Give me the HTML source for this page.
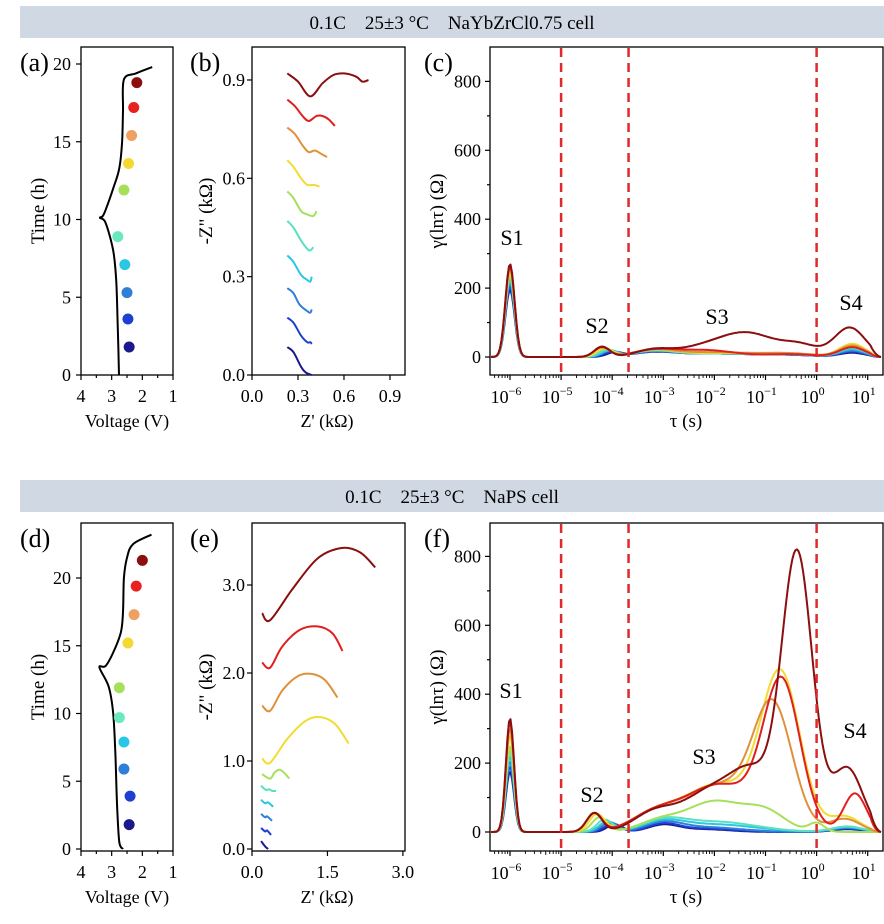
<!DOCTYPE html>
<html><head><meta charset="utf-8"><style>
html,body{margin:0;padding:0;background:#fff;}
svg{display:block;font-family:"Liberation Serif",serif;}
</style></head><body>
<svg id="fig" width="884" height="924" viewBox="0 0 884 924" xmlns="http://www.w3.org/2000/svg">
<rect x="20" y="6" width="864" height="32" fill="#cfd8e3"/>
<text x="452" y="29" font-size="19" text-anchor="middle" xml:space="preserve">0.1C    25±3 °C    NaYbZrCl0.75 cell</text>
<rect x="20" y="480" width="864" height="32" fill="#cfd8e3"/>
<text x="452" y="503" font-size="19" text-anchor="middle" xml:space="preserve">0.1C    25±3 °C    NaPS cell</text>
<g id="g"></g>
</svg>
<script>
const COLORS = ['#1a1a8c','#1f3fd0','#2f7fd8','#29c6e6','#5ae0c0','#a6e05a','#f2dc30','#e0903a','#e02020','#8b0f0f'];
const DOTCOLORS = ['#1a1a8c','#1f3fd0','#2f7fd8','#29c6e6','#6ae8c0','#a6e05a','#f5d830','#f0a060','#e82020','#8b0f0f'];

// (a) voltage-time
const aCurveV = [2.76,2.8,2.85,2.95,3.2,3.38,3.3,3.2,2.95,2.75,2.66,2.63,2.6,2.2,1.68];
const aCurveT = [0,3,6,8,9.8,10.1,10.2,10.6,12,13.3,15,17,19,19.4,19.8];
const aDotV = [2.43,2.47,2.5,2.57,2.8,2.6,2.45,2.35,2.28,2.18];
const aDotT = [1.8,3.6,5.3,7.1,8.9,11.9,13.6,15.4,17.2,18.8];
// (d)
const dCurveV = [2.63,2.75,2.82,2.88,2.95,3.1,3.4,3.2,2.95,2.7,2.63,2.6,2.5,2.3,1.7];
const dCurveT = [0,0.5,3,7,10,12,13.4,13.5,14.5,16,17.5,20,21.5,22.5,23.2];
const dDotV = [2.43,2.4,2.6,2.6,2.75,2.75,2.47,2.27,2.2,2.0];
const dDotT = [1.8,3.9,5.9,7.9,9.7,11.9,15.2,17.3,19.4,21.3];

// (b) Nyquist, [Z', -Z''] kOhm
const bSeries = [
 [[0.23,0.085],[0.27,0.07],[0.32,0.025],[0.35,0.008],[0.39,0.0]],
 [[0.23,0.175],[0.27,0.16],[0.32,0.12],[0.36,0.1],[0.38,0.1],[0.39,0.095]],
 [[0.23,0.265],[0.27,0.25],[0.31,0.215],[0.36,0.195],[0.38,0.19],[0.39,0.2]],
 [[0.23,0.365],[0.27,0.345],[0.32,0.305],[0.36,0.29],[0.38,0.285],[0.39,0.3]],
 [[0.23,0.47],[0.27,0.45],[0.32,0.41],[0.36,0.385],[0.38,0.38],[0.40,0.39]],
 [[0.23,0.56],[0.27,0.54],[0.32,0.5],[0.36,0.49],[0.40,0.485],[0.42,0.5]],
 [[0.23,0.655],[0.27,0.635],[0.32,0.6],[0.36,0.58],[0.40,0.58],[0.44,0.575]],
 [[0.23,0.755],[0.28,0.735],[0.33,0.7],[0.37,0.68],[0.41,0.685],[0.45,0.675],[0.49,0.665]],
 [[0.23,0.84],[0.28,0.82],[0.33,0.79],[0.37,0.775],[0.42,0.79],[0.46,0.79],[0.50,0.78],[0.54,0.76]],
 [[0.23,0.92],[0.30,0.895],[0.38,0.85],[0.46,0.89],[0.53,0.915],[0.6,0.92],[0.68,0.91],[0.72,0.895],[0.76,0.9]]
];
// (e)
const eSeries = [
 [[0.18,0.09],[0.26,0.03],[0.32,0.0]],
 [[0.18,0.24],[0.26,0.2],[0.3,0.21],[0.38,0.16]],
 [[0.18,0.4],[0.26,0.36],[0.3,0.37],[0.4,0.32]],
 [[0.18,0.56],[0.26,0.52],[0.32,0.53],[0.42,0.48]],
 [[0.18,0.72],[0.28,0.67],[0.34,0.68],[0.4,0.66],[0.48,0.66]],
 [[0.2,0.85],[0.36,0.8],[0.45,0.87],[0.55,0.9],[0.65,0.86],[0.74,0.8]],
 [[0.2,1.03],[0.36,0.98],[0.7,1.25],[1.05,1.45],[1.35,1.5],[1.65,1.42],[1.92,1.2]],
 [[0.2,1.63],[0.36,1.57],[0.6,1.8],[0.9,1.96],[1.18,1.99],[1.45,1.92],[1.7,1.72]],
 [[0.2,2.12],[0.36,2.06],[0.6,2.3],[0.95,2.49],[1.3,2.53],[1.6,2.45],[1.8,2.25]],
 [[0.2,2.68],[0.36,2.6],[0.8,2.95],[1.3,3.3],[1.78,3.42],[2.15,3.37],[2.45,3.2]]
];

// DRT peaks per series: [log10 tau center, height (Ohm), width (decades)]
const cPeaks = [
 [[-6,195,0.09],[-3.95,12,0.15],[-3.2,12,0.4],[-2,10,0.8],[-0.5,5,0.5],[0.7,12,0.25]],
 [[-6,205,0.09],[-4.0,14,0.15],[-3.2,13,0.4],[-2,10,0.8],[-0.5,5,0.5],[0.7,15,0.25]],
 [[-6,215,0.09],[-4.05,16,0.15],[-3.2,14,0.4],[-2,10,0.8],[-0.5,6,0.5],[0.7,18,0.25]],
 [[-6,225,0.09],[-4.05,18,0.15],[-3.2,15,0.4],[-2,10,0.8],[-0.5,6,0.5],[0.7,22,0.25]],
 [[-6,232,0.09],[-4.1,20,0.15],[-3.2,16,0.4],[-2,11,0.8],[-0.5,7,0.5],[0.7,26,0.25]],
 [[-6,240,0.09],[-4.15,22,0.15],[-3.2,17,0.4],[-2,11,0.8],[-0.5,7,0.5],[0.7,30,0.25]],
 [[-6,250,0.09],[-4.15,25,0.15],[-3.2,18,0.4],[-2,12,0.8],[-0.5,8,0.5],[0.7,38,0.25]],
 [[-6,258,0.09],[-4.2,27,0.15],[-3.2,18,0.4],[-2,14,0.8],[-0.5,9,0.5],[0.7,33,0.25]],
 [[-6,265,0.09],[-4.2,28,0.15],[-3.2,18,0.4],[-2.2,20,0.6],[-0.5,8,0.5],[0.7,28,0.25]],
 [[-6,270,0.09],[-4.2,30,0.15],[-3.2,20,0.35],[-2.3,22,0.5],[-1.35,68,0.55],[-0.3,30,0.35],[0.65,85,0.3]]
];
const fPeaks = [
 [[-6,175,0.08],[-3.95,22,0.15],[-3.0,20,0.3],[-2.2,8,0.5],[0.6,8,0.3]],
 [[-6,190,0.08],[-4.0,25,0.15],[-3.0,22,0.3],[-2.2,10,0.6],[0.6,10,0.3]],
 [[-6,205,0.08],[-4.05,28,0.15],[-3.0,24,0.35],[-2.2,14,0.7],[0.6,12,0.3]],
 [[-6,220,0.08],[-4.1,30,0.15],[-3.0,26,0.4],[-2.0,22,0.8],[0.6,14,0.3]],
 [[-6,235,0.08],[-4.15,35,0.15],[-3.0,28,0.4],[-2.0,30,0.8],[0.6,16,0.3]],
 [[-6,250,0.08],[-4.25,42,0.15],[-3.1,30,0.4],[-2.0,88,0.55],[-1.0,55,0.4],[0,25,0.15]],
 [[-6,280,0.08],[-4.3,50,0.15],[-3.2,45,0.45],[-1.9,140,0.7],[-0.7,440,0.38],[0.55,45,0.3]],
 [[-6,300,0.08],[-4.35,52,0.15],[-3.2,45,0.45],[-1.9,135,0.7],[-0.85,340,0.38],[0.55,38,0.3]],
 [[-6,320,0.08],[-4.35,54,0.15],[-3.2,45,0.45],[-1.9,138,0.7],[-0.68,420,0.36],[0.75,112,0.22]],
 [[-6,330,0.08],[-4.35,55,0.15],[-3.2,50,0.4],[-2.0,125,0.6],[-1.2,130,0.4],[-0.38,800,0.3],[0.6,185,0.3]]
];
const yTicksDRT = [0,200,400,600,800];
const xTicksDRT = [-6,-5,-4,-3,-2,-1,0,1];
const dashLines = [-5,-3.68,0];

const NS='http://www.w3.org/2000/svg';
const G=document.getElementById('g');
function el(tag,attrs,parent,txt){const e=document.createElementNS(NS,tag);for(const k in attrs)e.setAttribute(k,attrs[k]);if(txt!==undefined)e.textContent=txt;(parent||G).appendChild(e);return e;}

function smooth(pts){
 if(pts.length<3){return 'M'+pts.map(p=>p[0].toFixed(1)+','+p[1].toFixed(1)).join('L');}
 let d='M'+pts[0][0].toFixed(1)+','+pts[0][1].toFixed(1);
 for(let i=0;i<pts.length-1;i++){
  const p0=pts[Math.max(0,i-1)],p1=pts[i],p2=pts[i+1],p3=pts[Math.min(pts.length-1,i+2)];
  const c1=[p1[0]+(p2[0]-p0[0])/6,p1[1]+(p2[1]-p0[1])/6];
  const c2=[p2[0]-(p3[0]-p1[0])/6,p2[1]-(p3[1]-p1[1])/6];
  d+='C'+c1[0].toFixed(1)+','+c1[1].toFixed(1)+' '+c2[0].toFixed(1)+','+c2[1].toFixed(1)+' '+p2[0].toFixed(1)+','+p2[1].toFixed(1);
 }
 return d;
}

function frame(x0,y0,x1,y1,name){
 const r=el('rect',{x:x0,y:y0,width:x1-x0,height:y1-y0,fill:'none',stroke:'#000','stroke-width':1.3});
 
 
}
function txt(x,y,s,size,anchor,name,extra){
 const t=el('text',Object.assign({x:x,y:y,'font-size':size,'text-anchor':anchor||'middle'},extra||{}),G,s);
 
 
 return t;
}
function line(x1,y1,x2,y2,name,w){
 const l=el('line',{x1:x1,y1:y1,x2:x2,y2:y2,stroke:'#000','stroke-width':w||1.2});
 
 
}

// ---------- Voltage panels ----------
function voltPanel(top,bot,t0y,tPerPx,V,T,DV,DT,label,yticks,tag){
 const X=v=>81+(4-v)*30.67, Y=t=>t0y-t*tPerPx;
 frame(81,top,173,bot,tag+'-frame');
 [4,3,2,1].forEach(v=>{line(X(v),bot,X(v),bot+5,tag+'-x-tick');txt(X(v),bot+27,String(v),18,'middle',tag+'-x-tick-label');});
 [3.5,2.5,1.5].forEach(v=>line(X(v),bot,X(v),bot+3,tag+'-x-minor-tick'));
 yticks.forEach(t=>{line(81,Y(t),76,Y(t),tag+'-y-tick');txt(71,Y(t)+6,String(t),18,'end',tag+'-y-tick-label');});
 txt(127,bot+52,'Voltage (V)',18,'middle',tag+'-x-axis-title');
 txt(0,0,'Time (h)',19,'middle',tag+'-y-axis-title',{transform:`translate(44,${(top+bot)/2}) rotate(-90)`});
 txt(20,top+24,label,26,'start',tag+'-panel-label');
 const pts=V.map((v,i)=>[X(v),Y(T[i])]);
 const p=el('path',{d:smooth(pts),fill:'none',stroke:'#000','stroke-width':2});
 
 
 DV.forEach((v,i)=>{
  const c=el('circle',{cx:X(v),cy:Y(DT[i]),r:5.5,fill:DOTCOLORS[i]});
  
  
 });
}
voltPanel(47,375,375,15.55,aCurveV,aCurveT,aDotV,aDotT,'(a)',[0,5,10,15,20],'panel-a');
voltPanel(523,851,849,13.55,dCurveV,dCurveT,dDotV,dDotT,'(d)',[0,5,10,15,20],'panel-d');

// ---------- Nyquist panels ----------
function nyqPanel(top,bot,y0,yPer,xPer,series,xt,yt,label,tag){
 const X=z=>252+z*xPer, Y=z=>y0-z*yPer;
 frame(252,top,405,bot,tag+'-frame');
 xt.forEach(v=>{line(X(v),bot,X(v),bot+5,tag+'-x-tick');txt(X(v),bot+27,v.toFixed(1),18,'middle',tag+'-x-tick-label');});
 yt.forEach(v=>{line(252,Y(v),247,Y(v),tag+'-y-tick');txt(245,Y(v)+6,v.toFixed(1),18,'end',tag+'-y-tick-label');});
 txt(327,bot+52,"Z' (kΩ)",18,'middle',tag+'-x-axis-title');
 txt(0,0,'-Z" (kΩ)',19,'middle',tag+'-y-axis-title',{transform:`translate(212,${(top+bot)/2}) rotate(-90)`});
 txt(190,top+24,label,26,'start',tag+'-panel-label');
 series.forEach((s,i)=>{
  const pts=s.map(p=>[X(p[0]),Y(p[1])]);
  const p=el('path',{d:smooth(pts),fill:'none',stroke:COLORS[i],'stroke-width':2,'stroke-linejoin':'round'});
  
  
 });
}
nyqPanel(47,375,375,327.8,153.3,bSeries,[0,0.3,0.6,0.9],[0,0.3,0.6,0.9],'(b)','panel-b');
nyqPanel(523,851,849,88,50.3,eSeries,[0,1.5,3.0],[0,1,2,3],'(e)','panel-e');

// ---------- DRT panels ----------
function drtPanel(top,bot,y0,peaks,label,tag,sl){
 const X=l=>510+(l+6)*51.1, Y=v=>y0-v*0.3445;
 frame(490,top,883,bot,tag+'-frame');
 yTicksDRT.forEach(v=>{line(490,Y(v),485,Y(v),tag+'-y-tick');txt(481,Y(v)+6,String(v),18,'end',tag+'-y-tick-label');});
 [100,300,500,700].forEach(v=>line(490,Y(v),487,Y(v),tag+'-y-minor-tick'));
 xTicksDRT.forEach(l=>{
  line(X(l),bot,X(l),bot+5,tag+'-x-tick');
  const t=txt(X(l)-4,bot+28,'10',18,'middle',tag+'-x-tick-label');
  el('tspan',{dy:-8,'font-size':12},t,(l<0?'−':'')+Math.abs(l));
  for(let k=2;k<10;k++){const lx=X(l+Math.log10(k));if(lx>490&&lx<883)line(lx,bot,lx,bot+(k==5?4:3),tag+'-x-minor-tick',0.9);}
 });
 for(let k=5;k<10;k++){line(X(-7+Math.log10(k)),bot,X(-7+Math.log10(k)),bot+3,tag+'-x-minor-tick',0.9);}
 txt(686,bot+52,'τ (s)',19,'middle',tag+'-x-axis-title');
 txt(0,0,'γ(lnτ) (Ω)',19,'middle',tag+'-y-axis-title',{transform:`translate(443,${(top+bot)/2}) rotate(-90)`});
 txt(424,top+24,label,26,'start',tag+'-panel-label');
 peaks.forEach((pk,i)=>{
  let d='';
  for(let px=491;px<=882;px+=1.5){
   const l=-6+(px-510)/51.1;
   let v=0;pk.forEach(g=>{v+=g[1]*Math.exp(-0.5*Math.pow((l-g[0])/g[2],2));});
   const taper=l>1.05?Math.max(0,1-(l-1.05)/0.2):1;
   v*=taper;
   d+=(d?'L':'M')+px.toFixed(1)+','+Y(v).toFixed(1);
  }
  const p=el('path',{d:d,fill:'none',stroke:COLORS[i],'stroke-width':2,'stroke-linejoin':'round'});
  
  
 });
 dashLines.forEach(l=>{
  const d=el('line',{x1:X(l),y1:top+1,x2:X(l),y2:bot-1,stroke:'#dd2a2a','stroke-width':2.5,'stroke-dasharray':'9,6'});
  
  
 });
 sl.forEach((s,i)=>txt(s[0],s[1],'S'+(i+1),22,'middle',tag+'-peak-label-s'+(i+1)));
}
drtPanel(47,375,357,cPeaks,'(c)','panel-c',[[512,245],[597,333],[717,324],[851,310]]);
drtPanel(523,851,832,fPeaks,'(f)','panel-f',[[511,698],[592,802],[704,764],[855,738]]);
</script>
</body></html>
